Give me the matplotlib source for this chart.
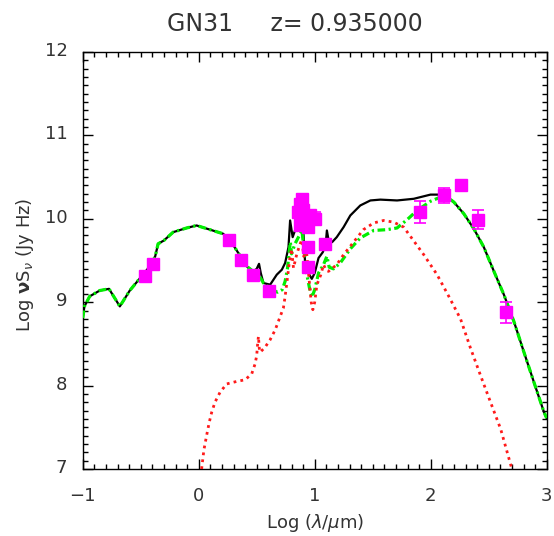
import numpy as np
import matplotlib
matplotlib.use("Agg")
import matplotlib.pyplot as plt
from matplotlib.ticker import MultipleLocator
from matplotlib.transforms import ScaledTranslation

plt.rcParams["font.family"] = ["DejaVu Sans"]
plt.rcParams["mathtext.fontset"] = "dejavusans"
plt.rcParams["lines.scale_dashes"] = False

TEXT = "#333333"

# ---- SED model components (log lambda [um], log nuS_nu [Jy Hz]) ----
# stellar part, shared by the total and the cold-dust model
stellar_x = [-1.0, -0.985, -0.94, -0.853, -0.773, -0.68, -0.594, -0.493, -0.41,
             -0.375, -0.35, -0.30, -0.22, -0.104, -0.018, 0.097, 0.212, 0.30,
             0.36, 0.414, 0.47]
stellar_y = [8.81, 8.95, 9.07, 9.14, 9.16, 8.95, 9.14, 9.31, 9.45,
             9.55, 9.70, 9.74, 9.84, 9.89, 9.92, 9.87, 9.82, 9.68,
             9.55, 9.43, 9.37]

# far-IR Rayleigh-Jeans tail, shared as well
tail_x = [2.142, 2.2, 2.286, 2.372, 2.458, 2.545, 2.631, 2.717, 2.804, 2.89, 2.977, 3.0]
tail_y = [10.26, 10.20, 10.06, 9.88, 9.66, 9.37, 9.09, 8.77, 8.40, 8.04, 7.68, 7.61]

# total model, mid-IR part
total_mir_x = [0.50, 0.52, 0.535, 0.558, 0.616, 0.673, 0.717, 0.745, 0.774, 0.788,
               0.81, 0.83, 0.86, 0.886, 0.90, 0.918, 0.945, 0.975, 1.0, 1.033,
               1.07, 1.095, 1.105, 1.12, 1.15, 1.19, 1.249, 1.307, 1.393, 1.48,
               1.566, 1.71, 1.854, 1.998, 2.10]
total_mir_y = [9.40, 9.46, 9.35, 9.23, 9.21, 9.33, 9.39, 9.47, 9.66, 9.98,
               9.78, 9.86, 9.95, 10.05, 9.90, 9.45, 9.35, 9.28, 9.35, 9.53,
               9.60, 9.70, 9.86, 9.74, 9.72, 9.78, 9.90, 10.04, 10.16, 10.22,
               10.23, 10.22, 10.24, 10.29, 10.29]

# cold-dust model, mid-IR part
cold_mir_x = [0.50, 0.558, 0.63, 0.68, 0.72, 0.745, 0.765, 0.78, 0.79, 0.80,
              0.83, 0.86, 0.89, 0.91, 0.927, 0.955, 0.976, 1.0, 1.033, 1.076,
              1.105, 1.125, 1.162, 1.22, 1.307, 1.393, 1.508, 1.624, 1.71, 1.797,
              1.883, 1.998, 2.084]
cold_mir_y = [9.37, 9.23, 9.15, 9.12, 9.15, 9.25, 9.40, 9.60, 9.72, 9.58,
              9.70, 9.78, 9.86, 9.60, 9.37, 9.17, 9.06, 9.15, 9.35, 9.45,
              9.55, 9.42, 9.40, 9.47, 9.64, 9.77, 9.86, 9.87, 9.89, 9.99,
              10.10, 10.21, 10.26]

# starburst (warm dust + PAH) component
sb_x = [0.025, 0.045, 0.068, 0.091, 0.112, 0.14, 0.184, 0.241, 0.328, 0.40,
        0.457, 0.486, 0.50, 0.508, 0.515, 0.522, 0.53, 0.572, 0.616, 0.66,
        0.70, 0.73, 0.745, 0.766, 0.783, 0.80, 0.817, 0.846, 0.875, 0.89,
        0.905, 0.93, 0.95, 0.97, 0.984, 1.0, 1.019, 1.053, 1.076, 1.10,
        1.119, 1.19, 1.249, 1.335, 1.42, 1.508, 1.594, 1.68, 1.767, 1.825,
        1.94, 2.055, 2.156, 2.257, 2.343, 2.43, 2.516, 2.603, 2.70]
sb_y = [7.0, 7.23, 7.40, 7.56, 7.68, 7.80, 7.92, 8.02, 8.05, 8.07,
        8.14, 8.26, 8.36, 8.50, 8.59, 8.45, 8.40, 8.46, 8.55, 8.67,
        8.82, 8.93, 9.07, 9.30, 9.50, 9.64, 9.41, 9.58, 9.70, 9.75,
        9.55, 9.60, 9.30, 9.00, 8.91, 9.00, 9.21, 9.33, 9.45, 9.38,
        9.37, 9.45, 9.57, 9.72, 9.87, 9.95, 9.98, 9.96, 9.90, 9.79,
        9.57, 9.33, 9.07, 8.80, 8.45, 8.12, 7.80, 7.48, 7.0]

# ---- photometry ----
obs_x = [-0.464, -0.398, 0.264, 0.362, 0.466, 0.61,
         0.87, 0.89, 0.86, 0.90, 0.96, 1.00, 0.875, 0.945, 0.94, 0.94, 1.09,
         1.911, 2.113, 2.257, 2.406, 2.646]
obs_y = [9.32, 9.46, 9.74, 9.51, 9.33, 9.13,
         10.18, 10.24, 10.08, 10.10, 10.04, 10.00, 9.93, 9.90, 9.66, 9.42, 9.70,
         10.08, 10.28, 10.40, 9.99, 8.88]
obs_err = [0.03, 0.03, 0.03, 0.03, 0.03, 0.03,
           0.03, 0.03, 0.03, 0.03, 0.03, 0.08, 0.03, 0.03, 0.03, 0.03, 0.03,
           0.13, 0.09, 0.03, 0.11, 0.125]

total_x = np.concatenate([stellar_x, total_mir_x, tail_x])
total_y = np.concatenate([stellar_y, total_mir_y, tail_y])
cold_x = np.concatenate([stellar_x, cold_mir_x, tail_x])
cold_y = np.concatenate([stellar_y, cold_mir_y, tail_y])

fig = plt.figure(figsize=(5.54, 5.36), dpi=100)
ax = fig.add_axes([82.7 / 554, 1 - 469 / 536, 464 / 554, 417 / 536])

ax.plot(total_x, total_y, color="black", lw=1.6, zorder=2)
ax.plot(cold_x, cold_y, color="#00ee00", lw=2.3,
        linestyle=(0, (5.5, 2.5, 1.6, 2.5)), zorder=3)
ax.plot(sb_x, sb_y, color="#ff1a1a", lw=2.0,
        linestyle=(0, (2.0, 3.0)), zorder=3)
ax.errorbar(obs_x, obs_y, yerr=obs_err, fmt="s", color="#ff00ff",
            markersize=9, ecolor="#ff00ff", elinewidth=1.2, capsize=4,
            capthick=1.2, zorder=5)

ax.set_xlim(-1, 3)
ax.set_ylim(7, 12)
ax.xaxis.set_major_locator(MultipleLocator(1))
ax.xaxis.set_minor_locator(MultipleLocator(0.1))
ax.yaxis.set_major_locator(MultipleLocator(1))
ax.yaxis.set_minor_locator(MultipleLocator(0.1))
ax.tick_params(which="both", direction="in", top=True, right=True,
               colors="black", labelcolor=TEXT, labelsize=13)
ax.tick_params(which="major", length=7.5, width=1.0)
ax.tick_params(which="minor", length=3.3, width=1.0)
ax.tick_params(axis="x", which="major", pad=13)
ax.tick_params(axis="y", which="major", pad=11)
for s in ax.spines.values():
    s.set_linewidth(1.0)

lift = ScaledTranslation(0, 3 / 100, fig.dpi_scale_trans)
for lab in ax.get_yticklabels():
    lab.set_transform(lab.get_transform() + lift)

ax.set_xlabel(r"Log ($\lambda$/$\mu$m)", fontsize=13, color=TEXT, labelpad=5)
fig.text(25 / 554, 1 - 265 / 536, r"Log $\mathbf{\nu}$S$_{\nu}$ (Jy Hz)",
         rotation=90, ha="center", va="center", fontsize=13, color=TEXT)
fig.text(295 / 554, 1 - 24 / 536, "GN31     z= 0.935000", ha="center",
         va="center", fontsize=17, color=TEXT)

fig.savefig("out.png", dpi=100)
